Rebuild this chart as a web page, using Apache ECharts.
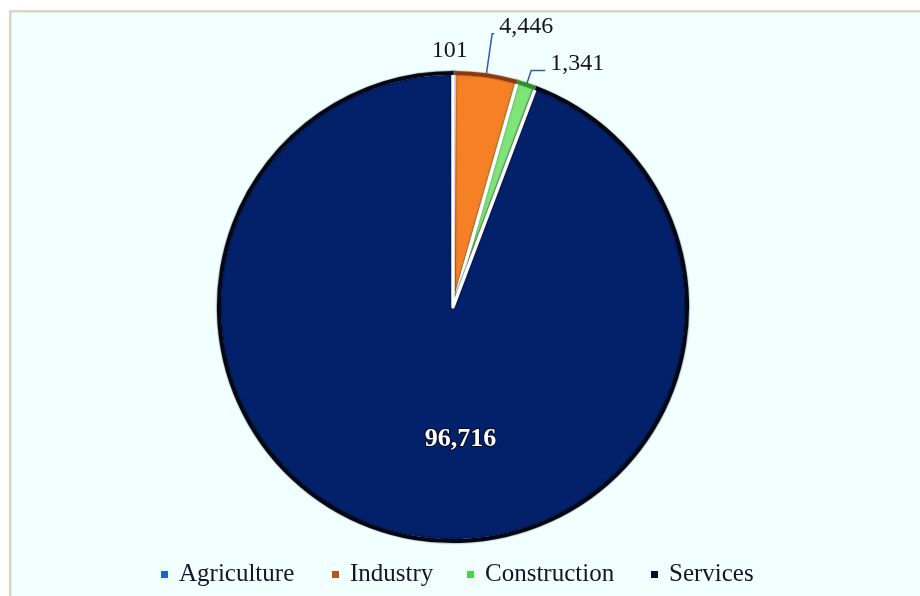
<!DOCTYPE html>
<html>
<head>
<meta charset="utf-8">
<title>Employment by sector</title>
<script src="https://cdn.jsdelivr.net/npm/echarts@6/dist/echarts.min.js"></script>
<style>
  html, body { margin: 0; padding: 0; background: #ffffff; }
  #chart { width: 920px; height: 596px; }
</style>
</head>
<body>
<div id="chart"></div>
<script>
// Sector totals
const categories = ['Agriculture', 'Industry', 'Construction', 'Services'];
const values = [101, 4446, 1341, 96716];
const valueLabels = ['101', '4,446', '1,341', '96,716'];

// Slice fills, legend swatches and the dark rim drawn round each slice
const sliceColors = ['#1f6fd1', '#f58025', '#7fe47a', '#03206a'];
const legendColors = ['#1766cc', '#c4530f', '#46d646', '#020a35'];
const outlineColors = ['#0d3c80', '#8a3a0c', '#2f8a2c', '#000818'];

// Per-slice leader line lengths [radial, horizontal]
const leaderLengths = [[10, 0], [42, 2], [15, 14], [10, 10]];

// Left edge of each legend entry
const legendLefts = [156, 327, 462, 646];

const serif = '"Liberation Serif", "Times New Roman", serif';
const legendText = { fontFamily: serif, fontSize: 25, color: '#14142a', padding: [0, 0, 0, 6] };

const chart = echarts.init(document.getElementById('chart'), null, { renderer: 'canvas' });

const pieData = categories.map((name, i) => {
  const item = {
    name: name,
    value: values[i],
    itemStyle: { color: sliceColors[i], shadowColor: outlineColors[i] },
    label: {
      show: true,
      position: 'outside',
      formatter: valueLabels[i],
      fontFamily: serif,
      fontSize: 24,
      color: '#161616'
    },
    labelLine: {
      show: i === 1 || i === 2,
      length: leaderLengths[i][0],
      length2: leaderLengths[i][1],
      lineStyle: { color: '#2f5fa6', width: 1.5 }
    }
  };
  if (i === 3) {
    item.label = {
      show: true,
      position: 'inside',
      formatter: valueLabels[i],
      fontFamily: serif,
      fontSize: 26,
      fontWeight: 'bold',
      color: '#ffffff',
      textBorderColor: '#0a0a1a',
      textBorderWidth: 2
    };
  }
  return item;
});

// Thin dark rim following each slice's outer arc
const rimData = categories.map((name, i) => ({
  name: name,
  value: values[i],
  itemStyle: { color: outlineColors[i] }
}));

// One legend entry per sector so each can sit at its own spot
const legends = categories.map((name, i) => ({
  left: legendLefts[i],
  top: 557,
  itemWidth: 7,
  itemHeight: 7,
  icon: 'rect',
  textStyle: legendText,
  selectedMode: false,
  data: [{
    name: name,
    itemStyle: { color: legendColors[i], borderWidth: 0, shadowBlur: 0 },
    textStyle: legendText
  }]
}));

chart.setOption({
  backgroundColor: '#ffffff',
  animation: false,
  graphic: [{
    type: 'rect',
    left: 9,
    top: 10,
    z: -10,
    shape: { width: 930, height: 600 },
    style: { fill: '#f2ffff', stroke: '#dbd6c2', lineWidth: 2.5 }
  }],
  legend: legends,
  series: [{
    type: 'pie',
    center: [453, 307],
    radius: 234,
    startAngle: 90,
    clockwise: true,
    avoidLabelOverlap: false,
    silent: true,
    z: 2,
    itemStyle: {
      borderColor: '#ffffff',
      borderWidth: 3.5,
      shadowBlur: 2
    },
    emphasis: { disabled: true },
    labelLayout: function (params) {
      if (params.dataIndex === 0) {
        return { dx: -params.labelRect.width / 2 - 9, dy: -12 };
      }
      if (params.dataIndex === 1) {
        return { dy: -7 };
      }
      if (params.dataIndex === 2) {
        return { dy: -7 };
      }
      if (params.dataIndex === 3) {
        return { dx: 29, dy: 14 };
      }
    },
    data: pieData
  }, {
    type: 'pie',
    center: [453, 307],
    radius: [231.9, 236.1],
    startAngle: 90,
    clockwise: true,
    silent: true,
    z: 3,
    label: { show: false },
    labelLine: { show: false },
    emphasis: { disabled: true },
    data: rimData
  }]
});
</script>
</body>
</html>
